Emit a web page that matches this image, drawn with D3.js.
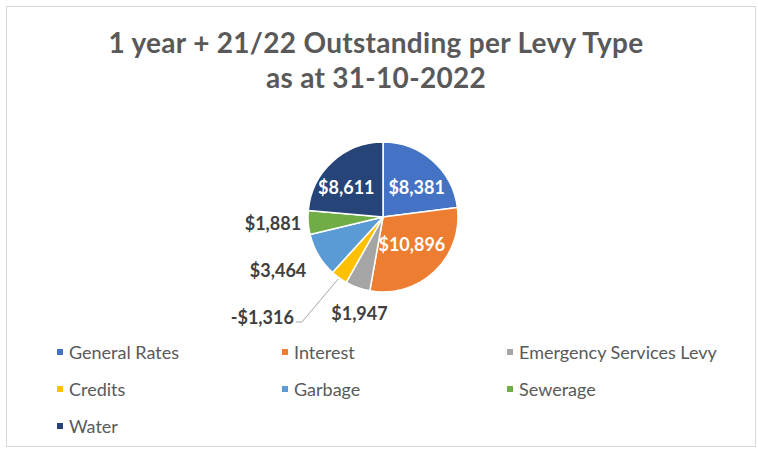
<!DOCTYPE html>
<html>
<head>
<meta charset="utf-8">
<script src="https://cdn.jsdelivr.net/npm/d3@7"></script>
<style>
  html, body { margin: 0; padding: 0; background: #ffffff; }
  svg { display: block; font-family: Lato, "Open Sans", sans-serif; }
</style>
</head>
<body>
<svg id="chart" width="758" height="451"></svg>
<script>
// Outstanding amounts per levy type
const categories = ["General Rates", "Interest", "Emergency Services Levy", "Credits", "Garbage", "Sewerage", "Water"];
const amounts = [8381, 10896, 1947, -1316, 3464, 1881, 8611];
const colors = ["#4472C4", "#ED7D31", "#A5A5A5", "#FFC000", "#5B9BD5", "#70AD47", "#264478"];
const titleLines = ["1 year + 21/22 Outstanding per Levy Type", "as at 31-10-2022"];

// label layout: inside/outside, radial factor and angular nudge (degrees)
const labelLayout = [
  { inside: true,  k: 0.60, da: 7 },
  { inside: true,  k: 0.53, da: -3 },
  { inside: false, k: 1.32, da: -6 },
  { inside: false, k: 2.09, da: 14.5, leader: true },
  { inside: false, k: 1.57, da: 3.6 },
  { inside: false, k: 1.47, da: 1.2 },
  { inside: true,  k: 0.63, da: -8.5 }
];

const W = 758, H = 451;
const svg = d3.select("#chart");

// outer chart frame
svg.append("rect")
  .attr("x", 6.5).attr("y", 6.5)
  .attr("width", 749).attr("height", 440)
  .attr("fill", "#ffffff")
  .attr("stroke", "#d9d9d9").attr("stroke-width", 1);

// title
const title = svg.append("text")
  .attr("text-anchor", "middle")
  .attr("fill", "#595959")
  .attr("font-weight", "bold")
  .attr("font-size", 28)
  .attr("letter-spacing", 0.3);
title.selectAll("tspan").data(titleLines).join("tspan")
  .attr("x", 376)
  .attr("y", (d, i) => 53 + i * 35)
  .text(d => d);

// pie
const cx = 383, cy = 217, R = 75;
const data = categories.map((c, i) => ({ name: c, value: amounts[i], color: colors[i], layout: labelLayout[i] }));

const pie = d3.pie()
  .sort(null)
  .value(d => Math.abs(d.value));
const arcs = pie(data);
const arc = d3.arc().innerRadius(0).outerRadius(R);

const g = svg.append("g").attr("transform", `translate(${cx},${cy})`);

g.selectAll("path.slice").data(arcs).join("path")
  .attr("class", "slice")
  .attr("d", arc)
  .attr("fill", d => d.data.color)
  .attr("stroke", "#ffffff")
  .attr("stroke-width", 1.5)
  .attr("stroke-linejoin", "round");

const fmt = v => (v < 0 ? "-$" : "$") + d3.format(",")(Math.abs(v));
const polar = (angle, r) => [Math.sin(angle) * r, -Math.cos(angle) * r];

const labels = g.selectAll("text.lbl").data(arcs).join("text")
  .attr("class", "lbl")
  .attr("text-anchor", "middle")
  .attr("dominant-baseline", "central")
  .attr("font-weight", "bold")
  .attr("font-size", 18)
  .attr("fill", d => d.data.layout.inside ? "#ffffff" : "#404040")
  .each(function (d) {
    const mid = (d.startAngle + d.endAngle) / 2 + d.data.layout.da * Math.PI / 180;
    const [x, y] = polar(mid, R * d.data.layout.k);
    d.lx = x; d.ly = y;
    d3.select(this).attr("x", x).attr("y", y);
  })
  .text(d => fmt(d.data.value));

// leader line for the small negative slice
labels.filter(d => d.data.layout.leader).each(function (d) {
  const w = this.getComputedTextLength();
  const mid = (d.startAngle + d.endAngle) / 2;
  const [ax, ay] = polar(mid, R * 1.02);
  const x0 = d.lx + w / 2 + 2, y0 = d.ly + 5;
  g.append("polyline")
    .attr("points", [[x0, y0], [x0 + 6, y0], [ax, ay]].map(p => p.join(",")).join(" "))
    .attr("fill", "none")
    .attr("stroke", "#a6a6a6")
    .attr("stroke-width", 1);
});

// legend: three columns
const colX = d3.scaleLinear().domain([0, 1]).range([57, 282]);
const legend = svg.append("g");
const items = legend.selectAll("g").data(data).join("g")
  .attr("transform", (d, i) => `translate(${colX(i % 3)},${352 + Math.floor(i / 3) * 37})`);
items.append("rect")
  .attr("x", 0).attr("y", -3)
  .attr("width", 6).attr("height", 6)
  .attr("fill", d => d.color);
items.append("text")
  .attr("x", 12)
  .attr("dominant-baseline", "central")
  .attr("font-size", 18)
  .attr("fill", "#595959")
  .text(d => d.name);
</script>
</body>
</html>
